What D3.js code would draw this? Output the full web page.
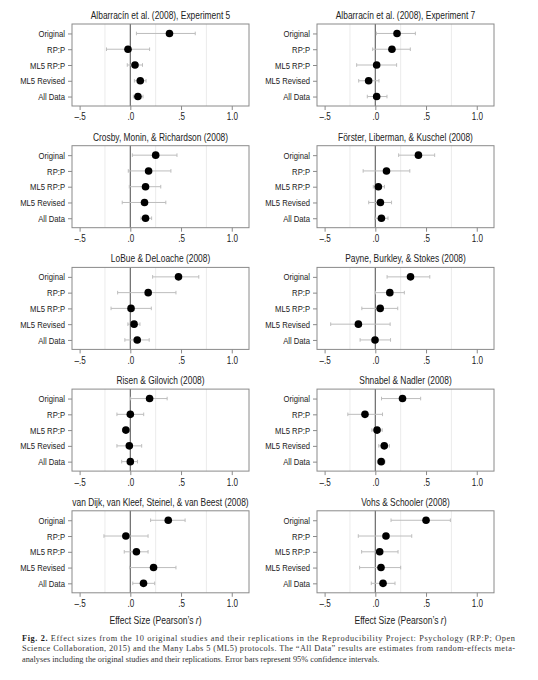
<!DOCTYPE html>
<html>
<head>
<meta charset="utf-8">
<script src="https://cdn.jsdelivr.net/npm/d3@7"></script>
<style>
  body { margin: 0; background: #fff; }
  svg { display: block; }
</style>
</head>
<body>
<div id="my_dataviz"></div>
<script>
// panel titles, in reading order (left, right, left, right ...)
const studies = [
  "Albarracín et al. (2008), Experiment 5",
  "Albarracín et al. (2008), Experiment 7",
  "Crosby, Monin, & Richardson (2008)",
  "Förster, Liberman, & Kuschel (2008)",
  "LoBue & DeLoache (2008)",
  "Payne, Burkley, & Stokes (2008)",
  "Risen & Gilovich (2008)",
  "Shnabel & Nadler (2008)",
  "van Dijk, van Kleef, Steinel, & van Beest (2008)",
  "Vohs & Schooler (2008)",
];

const protocols = ["Original", "RP:P", "ML5 RP:P", "ML5 Revised", "All Data"];

// point estimates (Pearson's r), one row per study, one value per protocol
const estimates = [
  [0.386, -0.023, 0.046, 0.098, 0.075],
  [0.214, 0.164, 0.013, -0.066, 0.013],
  [0.25, 0.18, 0.15, 0.14, 0.15],
  [0.425, 0.11, 0.03, 0.05, 0.06],
  [0.475, 0.176, 0.007, 0.037, 0.068],
  [0.347, 0.143, 0.048, -0.167, -0.003],
  [0.19, 0.0, -0.044, -0.01, 0.0],
  [0.268, -0.102, 0.017, 0.088, 0.058],
  [0.374, -0.044, 0.06, 0.229, 0.13],
  [0.5, 0.105, 0.043, 0.056, 0.076],
];

// 95% CI bounds
const lower = [
  [0.06, -0.235, -0.03, 0.04, 0.03],
  [0.01, -0.026, -0.184, -0.164, -0.079],
  [0.02, -0.02, -0.01, -0.08, 0.105],
  [0.23, -0.12, -0.02, -0.065, -0.005],
  [0.22, -0.125, -0.19, -0.024, -0.054],
  [0.116, 0.0, -0.133, -0.44, -0.15],
  [0.003, -0.132, -0.078, -0.132, -0.085],
  [0.061, -0.271, -0.034, 0.034, 0.02],
  [0.2, -0.26, -0.06, -0.007, 0.024],
  [0.155, -0.168, -0.135, -0.155, -0.04],
];

const upper = [
  [0.64, 0.19, 0.12, 0.155, 0.125],
  [0.395, 0.345, 0.21, 0.036, 0.115],
  [0.46, 0.4, 0.3, 0.35, 0.21],
  [0.585, 0.34, 0.09, 0.16, 0.125],
  [0.675, 0.45, 0.207, 0.095, 0.186],
  [0.537, 0.286, 0.221, 0.146, 0.15],
  [0.363, 0.132, -0.01, 0.112, 0.071],
  [0.447, 0.071, 0.068, 0.139, 0.095],
  [0.54, 0.175, 0.175, 0.45, 0.24],
  [0.74, 0.359, 0.224, 0.25, 0.194],
];

const xTicks = [-0.5, 0, 0.5, 1];
const xTickLabels = ["–.5", ".0", ".5", "1.0"];
const gridValues = [-0.25, 0.25, 0.75];

const captionLines = [
  "Effect sizes from the 10 original studies and their replications in the Reproducibility Project: Psychology (RP:P; Open",
  "Science Collaboration, 2015) and the Many Labs 5 (ML5) protocols. The “All Data” results are estimates from random-effects meta-",
  "analyses including the original studies and their replications. Error bars represent 95% confidence intervals.",
];

const width = 538;
const height = 680;
const panelW = 177;
const panelH = 82;
const colX = [72, 317];
const rowTop = 24;
const rowStep = 121.7;
// no condensed face installed, so squeeze Liberation Sans like Arial Narrow
const sans = "'Liberation Sans', Arial, sans-serif";

// horizontally condense a text selection around its own x position
function narrow(sel, k = 0.82) {
  sel.each(function () {
    const t = d3.select(this);
    const x0 = +t.attr("x") || 0;
    t.attr("x", x0 / k).attr("transform", `scale(${k},1)`);
  });
}

const svg = d3
  .select("#my_dataviz")
  .append("svg")
  .attr("width", width)
  .attr("height", height)
  .style("font-family", sans);

const x = d3.scaleLinear().domain([-0.575, 1.17]).range([0, panelW]);
const y = d3.scalePoint().domain(protocols).range([0, panelH]).padding(0.6);

studies.forEach((title, s) => {
  const col = s % 2;
  const row = Math.floor(s / 2);
  const g = svg
    .append("g")
    .attr("transform", `translate(${colX[col]},${rowTop + row * rowStep})`);

  // faint grid lines between the ticks
  g.selectAll("line.grid")
    .data(gridValues)
    .enter()
    .append("line")
    .attr("class", "grid")
    .attr("x1", (d) => x(d))
    .attr("x2", (d) => x(d))
    .attr("y1", 0)
    .attr("y2", panelH)
    .attr("stroke", "#e6e6e6")
    .attr("stroke-width", 0.8);

  // zero reference line
  g.append("line")
    .attr("x1", x(0))
    .attr("x2", x(0))
    .attr("y1", 0)
    .attr("y2", panelH)
    .attr("stroke", "#6a6a6a")
    .attr("stroke-width", 1.2);

  // x axis
  const xAxis = g
    .append("g")
    .attr("transform", `translate(0,${panelH})`)
    .call(
      d3.axisBottom(x)
        .tickValues(xTicks)
        .tickFormat((d, i) => xTickLabels[i])
        .tickSize(4)
        .tickPadding(3)
    );
  xAxis.select(".domain").remove();
  xAxis.selectAll("line").attr("stroke", "#8a8a8a");
  xAxis.selectAll("text")
    .style("font-family", sans)
    .style("font-size", "10.5px")
    .attr("fill", "#222")
    .call(narrow, 0.77);

  // y axis with protocol names
  const yAxis = g.append("g").call(d3.axisLeft(y).tickSize(4).tickPadding(3));
  yAxis.select(".domain").remove();
  yAxis.selectAll("line").attr("stroke", "#8a8a8a");
  yAxis.selectAll("text")
    .style("font-family", sans)
    .style("font-size", "9.6px")
    .attr("fill", "#222")
    .call(narrow, 0.8);

  // panel frame
  g.append("rect")
    .attr("width", panelW)
    .attr("height", panelH)
    .attr("fill", "none")
    .attr("stroke", "#8a8a8a")
    .attr("stroke-width", 1);

  // title
  g.append("text")
    .attr("x", panelW / 2)
    .attr("y", -5)
    .attr("text-anchor", "middle")
    .style("font-size", "10.5px")
    .attr("fill", "#222")
    .text(title)
    .call(narrow, 0.8);

  const rows = protocols.map((p, i) => ({
    p,
    est: estimates[s][i],
    lo: lower[s][i],
    hi: upper[s][i],
  }));

  // error bars with small caps
  const bar = g.selectAll("g.bar").data(rows).enter().append("g").attr("class", "bar");
  bar.append("line")
    .attr("x1", (d) => x(d.lo))
    .attr("x2", (d) => x(d.hi))
    .attr("y1", (d) => y(d.p))
    .attr("y2", (d) => y(d.p))
    .attr("stroke", "#bdbdbd")
    .attr("stroke-width", 1);
  ["lo", "hi"].forEach((k) => {
    bar.append("line")
      .attr("x1", (d) => x(d[k]))
      .attr("x2", (d) => x(d[k]))
      .attr("y1", (d) => y(d.p) - 1.8)
      .attr("y2", (d) => y(d.p) + 1.8)
      .attr("stroke", "#bdbdbd")
      .attr("stroke-width", 1);
  });

  // estimates
  g.selectAll("circle")
    .data(rows)
    .enter()
    .append("circle")
    .attr("cx", (d) => x(d.est))
    .attr("cy", (d) => y(d.p))
    .attr("r", 3.8)
    .attr("fill", "#000");

  // x axis title only on bottom row
  if (row === 4) {
    const t = g.append("text")
      .attr("x", panelW / 2 - 5)
      .attr("y", panelH + 31)
      .attr("text-anchor", "middle")
      .style("font-size", "11px")
      .attr("fill", "#222");
    t.append("tspan").text("Effect Size (Pearson’s ");
    t.append("tspan").style("font-style", "italic").text("r");
    t.append("tspan").text(")");
    t.call(narrow, 0.78);
  }
});

// figure caption
const cap = svg
  .append("g")
  .style("font-family", "'Liberation Serif', 'DejaVu Serif', serif")
  .style("font-size", "8.3px")
  .attr("fill", "#333");

captionLines.forEach((line, i) => {
  const t = cap.append("text")
    .attr("x", 22)
    .attr("y", 641 + i * 10.3);
  if (i < 2) t.attr("textLength", 493).attr("lengthAdjust", "spacing");
  if (i === 0) {
    t.append("tspan").style("font-weight", "bold").attr("fill", "#222").text("Fig. 2. ");
  }
  t.append("tspan").text(line);
});
</script>
</body>
</html>
